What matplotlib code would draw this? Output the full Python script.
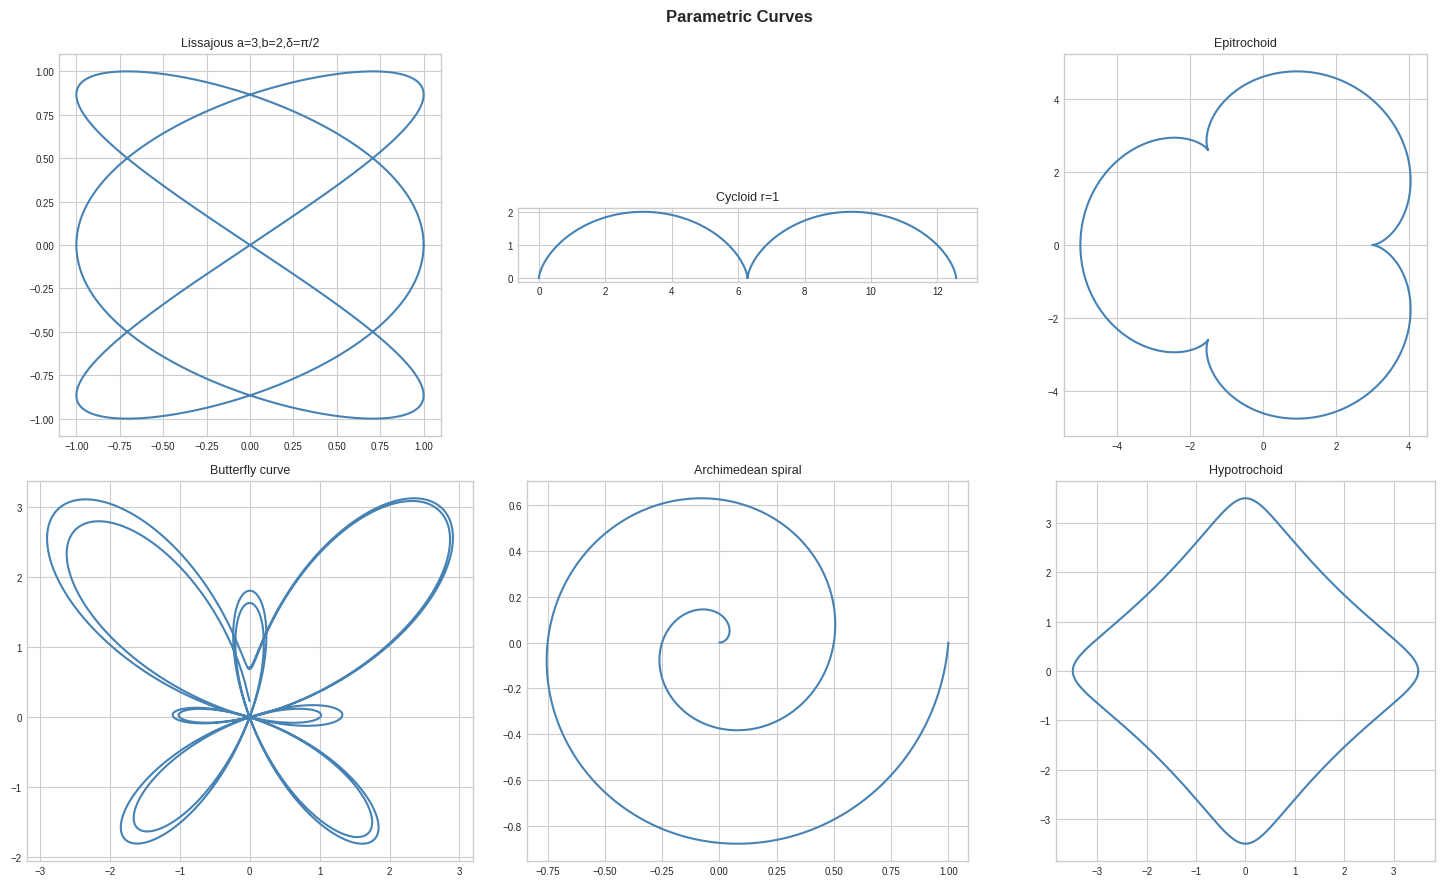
import matplotlib.pyplot as plt
import numpy as np

plt.style.use("seaborn-v0_8-whitegrid")

# curve parameters
lissajous_a, lissajous_b, lissajous_delta = 3, 2, np.pi / 2
cycloid_r = 1
epi_R, epi_r, epi_d = 3, 1, 1
hypo_R, hypo_r, hypo_d = 4, 1, 0.5
spiral_turns = 2
butterfly_span = 4 * np.pi

titles = ["Lissajous a=3,b=2,δ=π/2", "Cycloid r=1", "Epitrochoid",
          "Butterfly curve", "Archimedean spiral", "Hypotrochoid"]

color = "steelblue"

t = np.linspace(0, 2 * np.pi, 4000)

curves = []
# Lissajous
curves.append((np.sin(lissajous_a * t + lissajous_delta), np.sin(lissajous_b * t)))
# Cycloid, two arches
tc = np.linspace(0, 4 * np.pi, 2000)
curves.append((cycloid_r * (tc - np.sin(tc)), cycloid_r * (1 - np.cos(tc))))
# Epitrochoid
k = (epi_R + epi_r) / epi_r
curves.append(((epi_R + epi_r) * np.cos(t) - epi_d * np.cos(k * t),
               (epi_R + epi_r) * np.sin(t) - epi_d * np.sin(k * t)))
# Butterfly
tb = np.linspace(0, butterfly_span, 6000)
rb = np.exp(np.cos(tb)) - 2 * np.cos(4 * tb) - np.sin(tb / 12) ** 5
curves.append((np.sin(tb) * rb, np.cos(tb) * rb))
# Archimedean spiral
ts = np.linspace(0, spiral_turns * 2 * np.pi, 3000)
rs = ts / ts.max()
curves.append((rs * np.cos(ts), rs * np.sin(ts)))
# Hypotrochoid
kh = (hypo_R - hypo_r) / hypo_r
curves.append(((hypo_R - hypo_r) * np.cos(t) + hypo_d * np.cos(kh * t),
               (hypo_R - hypo_r) * np.sin(t) - hypo_d * np.sin(kh * t)))

W, H = 1445, 887
fig = plt.figure(figsize=(W / 100, H / 100), dpi=100)

# cell boxes in pixels (left, right) per column, (top, bottom) per row
cols = [(26, 474), (518, 977), (1055, 1436)]
rows = [(55, 437), (482, 862)]

for i, ((x, y), title) in enumerate(zip(curves, titles)):
    (x0, x1), (y0, y1) = cols[i % 3], rows[i // 3]
    ax = fig.add_axes([x0 / W, 1 - y1 / H, (x1 - x0) / W, (y1 - y0) / H])
    ax.plot(x, y, color=color, linewidth=1.5)
    ax.set_aspect("equal")
    ax.set_title(title, fontsize=9)
    ax.tick_params(labelsize=7)
    for s in ax.spines.values():
        s.set_visible(True)
        s.set_color("#cccccc")

fig.suptitle("Parametric Curves", fontsize=12, fontweight="bold",
             x=739 / W, y=1 - 18 / H, va="center")
fig.savefig("out.png", dpi=100)
